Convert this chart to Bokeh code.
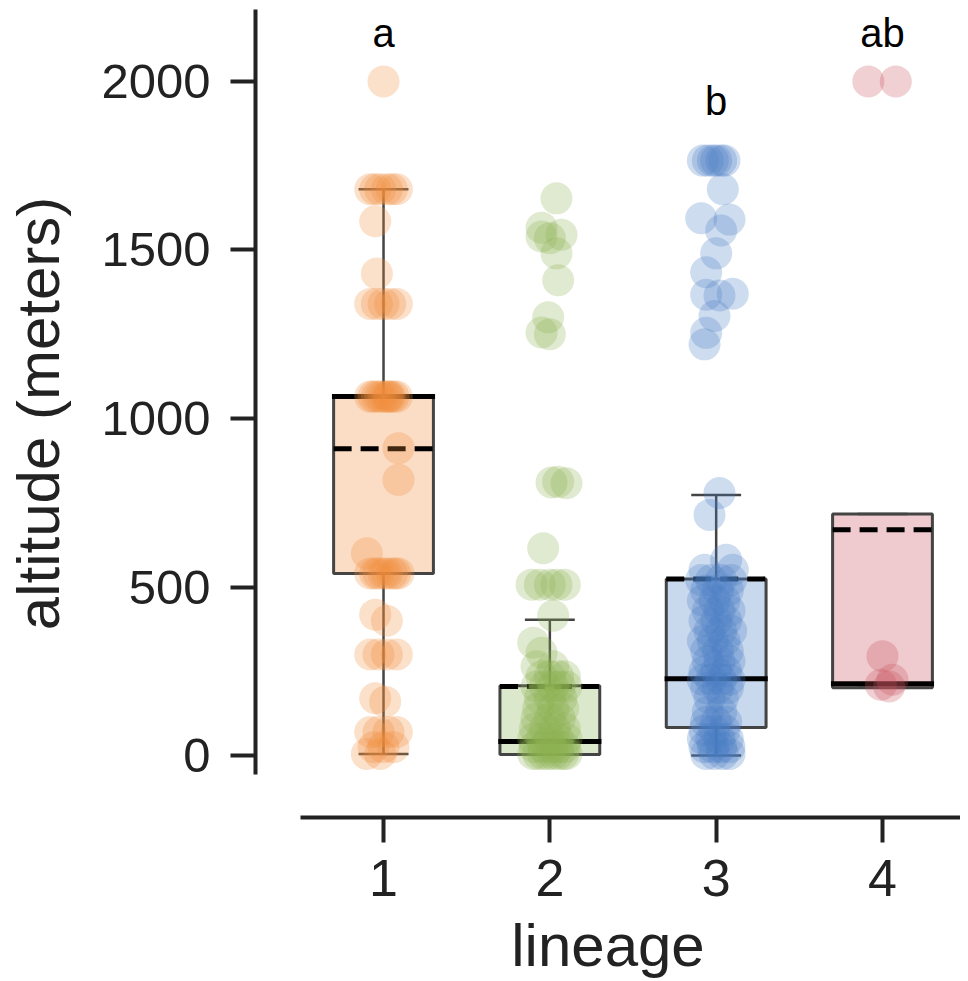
from bokeh.plotting import figure
from bokeh.models import FixedTicker, ColumnDataSource
from bokeh.embed import file_html
from bokeh.resources import INLINE
from bokeh.core.properties import value

# ---------------- data ----------------
lineages = [1, 2, 3, 4]
lineage_labels = ["1", "2", "3", "4"]
colors = ["#F28C3B", "#8CB352", "#4A7EC4", "#C9505C"]
sig_letters = ["a", "", "b", "ab"]

# box statistics (metres)
q1 = [540, 3, 83, 201]
q3 = [1065, 207, 524, 717]
median = [1065, 42, 228, 213]
mean = [910, 205, 524, 670]
whisk_lo = [5, 3, 0, 201]
whisk_hi = [1680, 403, 773, 717]

alt_1 = [2000, 1680, 1680, 1680, 1680, 1680, 1680, 1585, 1430,
         1340, 1340, 1340, 1340, 1340,
         1065, 1065, 1065, 1065, 1065, 1065, 1065, 1065, 1065, 1065,
         912, 818, 600,
         540, 540, 540, 540, 540, 540, 540, 540,
         418, 400, 300, 300, 300, 300, 170, 160,
         70, 70, 70, 70, 25, 25, 25, 5, 5]
jit_1 = [0.0, -0.08, -0.05, -0.02, 0.02, 0.05, 0.08, -0.05, -0.04,
         -0.08, -0.04, 0.0, 0.04, 0.08,
         -0.08, -0.06, -0.04, -0.02, 0.0, 0.02, 0.04, 0.06, 0.08, 0.03,
         0.09, 0.09, -0.10,
         -0.08, -0.05, -0.03, 0.0, 0.02, 0.05, 0.07, 0.09,
         -0.05, 0.02, -0.08, -0.03, 0.02, 0.08, -0.05, 0.01,
         -0.08, -0.03, 0.03, 0.08, -0.06, 0.0, 0.06, -0.10, -0.02]

alt_2 = [1653, 1566, 1540, 1535, 1545, 1490, 1410, 1300, 1255, 1250,
         810, 812, 808, 615,
         507, 507, 507, 507, 507,
         415, 335, 305, 265, 265, 235, 235, 235, 235,
         205, 205, 205, 205, 205, 170, 170, 170, 140, 140, 140,
         110, 110, 110, 80, 80, 80, 80, 50, 50, 50, 50, 50,
         25, 25, 25, 25, 25, 5, 5, 5, 5, 5, 5, 5, 5]
jit_2 = [0.04, -0.05, -0.05, 0.0, 0.07, 0.04, 0.05, -0.01, -0.05, 0.0,
         0.01, 0.05, 0.10, -0.04,
         -0.11, -0.06, 0.0, 0.04, 0.09,
         0.02, -0.10, -0.05, -0.08, 0.02, -0.05, 0.0, 0.05, 0.09,
         -0.08, -0.03, 0.02, 0.06, 0.10, -0.06, 0.0, 0.07, -0.07, 0.02, 0.08,
         -0.08, 0.0, 0.06, -0.09, -0.03, 0.03, 0.09, -0.10, -0.05, 0.0, 0.05, 0.10,
         -0.09, -0.04, 0.01, 0.05, 0.09, -0.10, -0.07, -0.04, -0.01, 0.02, 0.05, 0.08, 0.10]

alt_3 = [1765, 1765, 1765, 1765, 1765, 1765, 1680, 1594, 1590, 1558,
         1490, 1434, 1367, 1365, 1370, 1304, 1254, 1220,
         779, 714, 581, 551, 551, 521, 521, 521, 521,
         490, 490, 490, 460, 460, 460, 430, 430, 430, 400, 400, 400,
         370, 370, 370, 340, 340, 340, 310, 310, 310, 280, 280, 280,
         250, 250, 250, 225, 225, 225, 225, 200, 200, 200, 170, 170,
         130, 130, 100, 100, 100, 75, 75, 75, 50, 50, 50, 50,
         25, 25, 25, 25, 5, 5, 5, 5]
jit_3 = [-0.08, -0.05, -0.02, 0.0, 0.03, 0.05, 0.04, -0.09, 0.08, 0.03,
         0.0, -0.06, -0.06, 0.02, 0.10, -0.01, -0.06, -0.07,
         0.02, -0.04, 0.06, -0.07, 0.10, -0.09, -0.03, 0.03, 0.09,
         -0.06, 0.01, 0.07, -0.08, -0.01, 0.05, -0.05, 0.02, 0.08, -0.07, 0.0, 0.06,
         -0.04, 0.03, 0.09, -0.08, -0.02, 0.05, -0.06, 0.01, 0.07, -0.05, 0.02, 0.08,
         -0.07, 0.0, 0.06, -0.08, -0.03, 0.03, 0.08, -0.06, 0.01, 0.07, -0.04, 0.04,
         -0.05, 0.03, -0.06, 0.0, 0.06, -0.07, -0.01, 0.05, -0.08, -0.03, 0.02, 0.07,
         -0.07, -0.02, 0.03, 0.08, -0.06, -0.01, 0.04, 0.08]

alt_4 = [2000, 2000, 295, 225, 210, 205]
jit_4 = [-0.085, 0.08, 0.0, 0.06, -0.01, 0.04]

alts = [alt_1, alt_2, alt_3, alt_4]
jits = [jit_1, jit_2, jit_3, jit_4]

# ---------------- figure ----------------
FONT = "Liberation Sans"
BOX_W = 0.6
CAP_W = 0.3
EDGE = "#444444"

p = figure(width=960, height=981, output_backend="svg", toolbar_location=None,
           x_range=(0.2303, 4.469), y_range=(-183.7, 2213.3),
           min_border_left=255, min_border_right=0, min_border_top=9,
           min_border_bottom=163)
p.outline_line_color = None
p.xgrid.grid_line_color = None
p.ygrid.grid_line_color = None
p.background_fill_color = "white"
p.border_fill_color = "white"

# boxes
box_src = ColumnDataSource(dict(
    left=[c - BOX_W / 2 for c in lineages], right=[c + BOX_W / 2 for c in lineages],
    bottom=q1, top=q3, color=colors))
p.quad(left="left", right="right", bottom="bottom", top="top", source=box_src,
       fill_color="color", fill_alpha=0.3, line_color=EDGE, line_width=3)

# whiskers
p.segment(x0=lineages, x1=lineages, y0=q3, y1=whisk_hi, line_color=EDGE, line_width=2.5)
p.segment(x0=lineages, x1=lineages, y0=q1, y1=whisk_lo, line_color=EDGE, line_width=2.5)
p.segment(x0=[c - CAP_W / 2 for c in lineages], x1=[c + CAP_W / 2 for c in lineages],
          y0=whisk_hi, y1=whisk_hi, line_color=EDGE, line_width=2.5)
p.segment(x0=[c - CAP_W / 2 for c in lineages], x1=[c + CAP_W / 2 for c in lineages],
          y0=whisk_lo, y1=whisk_lo, line_color=EDGE, line_width=2.5)

# median (solid) and mean (dashed)
p.segment(x0=[c - BOX_W / 2 - 0.01 for c in lineages], x1=[c + BOX_W / 2 + 0.01 for c in lineages],
          y0=median, y1=median, line_color="black", line_width=5)
p.segment(x0=[c - BOX_W / 2 for c in lineages], x1=[c + BOX_W / 2 for c in lineages],
          y0=mean, y1=mean, line_color="black", line_width=5, line_dash="18 9")

# points
for c, a, j, col in zip(lineages, alts, jits, colors):
    p.scatter(x=[c + d for d in j], y=a, size=32, fill_color=col, fill_alpha=0.27,
              line_color=None)

# significance letters
p.text(x=lineages, y=[2145, 2145, 1941, 2145], text=sig_letters,
       text_font=value(FONT), text_font_size="40px", text_color="black",
       text_align="center", text_baseline="middle")

# axes
for ax in (p.xaxis[0], p.yaxis[0]):
    ax.axis_line_width = 4
    ax.axis_line_color = "#222222"
    ax.major_tick_line_width = 4
    ax.major_tick_line_color = "#222222"
    ax.major_tick_out = 25
    ax.major_tick_in = 0
    ax.minor_tick_line_color = None
    ax.major_label_text_font = FONT
    ax.major_label_text_color = "#222222"
    ax.axis_label_text_font = FONT
    ax.axis_label_text_font_size = "60px"
    ax.axis_label_text_font_style = "normal"
    ax.axis_label_text_color = "#222222"

p.xaxis.ticker = FixedTicker(ticks=lineages)
p.xaxis.major_label_overrides = {c: s for c, s in zip(lineages, lineage_labels)}
p.xaxis.bounds = (0.5, 4.469)
p.xaxis.axis_label = "lineage"
p.xaxis.major_label_text_font_size = "52px"
p.xaxis.major_label_standoff = 17
p.xaxis.axis_label_standoff = 13

p.yaxis.ticker = FixedTicker(ticks=[0, 500, 1000, 1500, 2000])
p.yaxis.bounds = (-56, 2213)
p.yaxis.axis_label = "altitude (meters)"
p.yaxis.major_label_text_font_size = "49px"
p.yaxis.major_label_standoff = 20
p.yaxis.axis_label_standoff = 26

open("out.html", "w").write(file_html(p, INLINE))
